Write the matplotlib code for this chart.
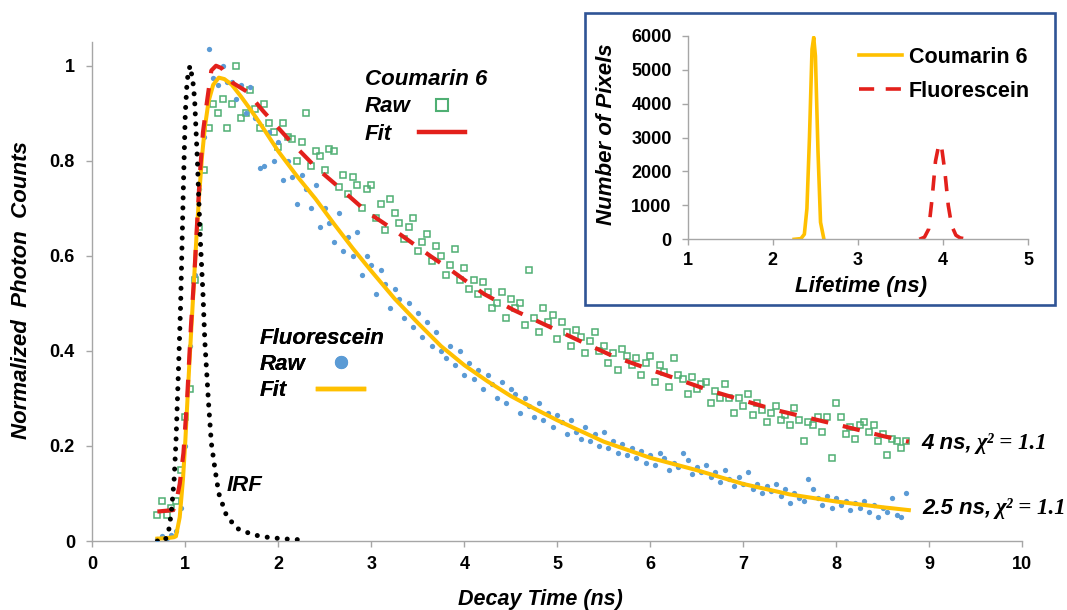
import numpy as np
import matplotlib
matplotlib.use("Agg")
import matplotlib.pyplot as plt
from matplotlib.patches import Rectangle
from matplotlib.lines import Line2D
from matplotlib.font_manager import FontProperties
from matplotlib.ticker import FuncFormatter

plt.rcParams['font.family'] = ['Liberation Sans', 'DejaVu Sans']
plt.rcParams['font.weight'] = 'bold'

# ---------------- data ----------------
# raw decay data: time bins (ns)
t_raw = np.round(0.70 + 0.05 * np.arange(162), 2)

fluo_raw = [
    0.005, 0.010, 0.006, 0.012, 0.022, 0.07, 0.20, 0.41, 0.56, 0.74,
    0.85, 1.035, 0.975, 0.96, 1.0, 0.965, 0.965, 0.93, 0.96, 0.90,
    0.955, 0.89, 0.785, 0.79, 0.86, 0.80, 0.84, 0.76, 0.80, 0.765,
    0.71, 0.77, 0.74, 0.70, 0.75, 0.66, 0.70, 0.67, 0.63, 0.69,
    0.61, 0.64, 0.60, 0.65, 0.56, 0.60, 0.58, 0.52, 0.57, 0.54,
    0.49, 0.53, 0.51, 0.47, 0.50, 0.45, 0.48, 0.43, 0.46, 0.41,
    0.44, 0.40, 0.385, 0.41, 0.37, 0.40, 0.35, 0.375, 0.34, 0.36,
    0.32, 0.35, 0.33, 0.30, 0.335, 0.29, 0.32, 0.31, 0.27, 0.30,
    0.285, 0.26, 0.29, 0.255, 0.27, 0.24, 0.265, 0.25, 0.225, 0.255,
    0.23, 0.215, 0.24, 0.21, 0.225, 0.20, 0.23, 0.195, 0.21, 0.185,
    0.205, 0.18, 0.195, 0.175, 0.19, 0.165, 0.18, 0.16, 0.185, 0.175,
    0.15, 0.165, 0.155, 0.185, 0.17, 0.14, 0.155, 0.145, 0.16, 0.135,
    0.145, 0.125, 0.15, 0.13, 0.115, 0.135, 0.12, 0.145, 0.11, 0.12,
    0.10, 0.115, 0.105, 0.12, 0.095, 0.11, 0.08, 0.10, 0.09, 0.085,
    0.13, 0.11, 0.09, 0.075, 0.095, 0.07, 0.09, 0.075, 0.085, 0.065,
    0.08, 0.07, 0.085, 0.06, 0.075, 0.05, 0.07, 0.06, 0.09, 0.055,
    0.05, 0.10,
]

coum_raw = [
    0.055, 0.085, 0.055, 0.07, 0.085, 0.15, 0.26, 0.32, 0.55, 0.66,
    0.78, 0.87, 0.92, 0.90, 0.93, 0.87, 0.92, 1.0, 0.89, 0.90,
    0.95, 0.91, 0.87, 0.92, 0.88, 0.86, 0.83, 0.88, 0.85, 0.845,
    0.80, 0.84, 0.90, 0.79, 0.82, 0.81, 0.78, 0.825, 0.82, 0.745,
    0.77, 0.73, 0.765, 0.75, 0.70, 0.74, 0.75, 0.68, 0.71, 0.655,
    0.72, 0.69, 0.67, 0.635, 0.66, 0.68, 0.61, 0.63, 0.645, 0.59,
    0.62, 0.60, 0.56, 0.58, 0.615, 0.55, 0.575, 0.53, 0.55, 0.52,
    0.545, 0.525, 0.49, 0.50, 0.525, 0.47, 0.51, 0.49, 0.50, 0.455,
    0.57, 0.47, 0.44, 0.49, 0.46, 0.475, 0.425, 0.46, 0.44, 0.41,
    0.445, 0.43, 0.395, 0.42, 0.44, 0.40, 0.41, 0.375, 0.395, 0.36,
    0.405, 0.39, 0.37, 0.385, 0.35, 0.375, 0.39, 0.335, 0.37, 0.355,
    0.325, 0.385, 0.35, 0.34, 0.31, 0.345, 0.32, 0.33, 0.335, 0.29,
    0.315, 0.30, 0.33, 0.30, 0.27, 0.30, 0.285, 0.31, 0.265, 0.29,
    0.275, 0.25, 0.27, 0.285, 0.255, 0.265, 0.245, 0.28, 0.255, 0.21,
    0.25, 0.245, 0.26, 0.23, 0.26, 0.175, 0.29, 0.26, 0.225, 0.24,
    0.215, 0.245, 0.25, 0.23, 0.245, 0.21, 0.225, 0.18, 0.215, 0.21,
    0.195, 0.21,
]

# fitted curves
fit_fl_t = [0.70, 0.80, 0.88, 0.90, 0.94, 0.975, 1.00, 1.04, 1.08, 1.12, 1.15,
            1.18, 1.21, 1.25, 1.30, 1.36, 1.42, 1.50, 1.60, 1.70, 1.80, 2.00,
            2.20, 2.40, 2.60, 2.80, 3.00, 3.25, 3.50, 3.75, 4.00, 4.25, 4.50,
            4.75, 5.00, 5.50, 6.00, 6.50, 7.00, 7.50, 8.00, 8.50, 8.78]
fit_fl_v = [0.005, 0.006, 0.008, 0.01, 0.05, 0.13, 0.21, 0.36, 0.50, 0.64, 0.73,
            0.81, 0.87, 0.925, 0.96, 0.975, 0.972, 0.96, 0.935, 0.908, 0.88, 0.82,
            0.768, 0.72, 0.667, 0.616, 0.568, 0.51, 0.459, 0.41, 0.37, 0.336, 0.305,
            0.279, 0.254, 0.209, 0.175, 0.149, 0.12, 0.098, 0.083, 0.071, 0.065]

fit_c6_t = [0.70, 0.87, 0.90, 0.94, 0.98, 1.02, 1.06, 1.10, 1.13, 1.16, 1.19,
            1.23, 1.28, 1.33, 1.39, 1.51, 1.66, 1.84, 2.13, 2.41, 2.66, 2.95,
            3.24, 3.64, 3.82, 4.21, 4.53, 5.22, 5.61, 6.01, 6.62, 7.34, 8.09,
            8.52, 8.78]
fit_c6_v = [0.062, 0.065, 0.08, 0.12, 0.185, 0.30, 0.45, 0.57, 0.68, 0.78, 0.86,
            0.92, 0.99, 1.0, 0.995, 0.964, 0.946, 0.904, 0.841, 0.785, 0.743, 0.693,
            0.655, 0.599, 0.575, 0.52, 0.486, 0.423, 0.388, 0.36, 0.318, 0.276, 0.241,
            0.22, 0.209]

# instrument response function
irf_t = [0.70, 0.78, 0.82, 0.85, 0.88, 0.90, 0.93, 0.95, 0.98, 1.00, 1.02, 1.05,
         1.08, 1.10, 1.13, 1.16, 1.19, 1.21, 1.25, 1.28, 1.32, 1.36, 1.44, 1.55,
         1.73, 1.91, 2.10, 2.30]
irf_v = [0.0, 0.0, 0.02, 0.06, 0.13, 0.21, 0.38, 0.50, 0.75, 0.90, 0.97, 1.0,
         0.97, 0.93, 0.80, 0.64, 0.52, 0.42, 0.29, 0.206, 0.15, 0.10, 0.055, 0.027,
         0.013, 0.007, 0.004, 0.002]

# inset: lifetime histograms
hist_c6_x = [2.25, 2.33, 2.37, 2.40, 2.43, 2.46, 2.48, 2.50, 2.53, 2.56, 2.60]
hist_c6_y = [0, 20, 150, 900, 3000, 5600, 5950, 5400, 2600, 500, 0]
hist_fl_x = [3.72, 3.78, 3.83, 3.87, 3.91, 3.95, 3.98, 4.02, 4.06, 4.10, 4.15,
             4.20, 4.27, 4.33]
hist_fl_y = [0, 60, 300, 1200, 2300, 2800, 2750, 2000, 1000, 400, 120, 40, 10, 0]

x_ticks = list(range(0, 11))
y_ticks = [0, 0.2, 0.4, 0.6, 0.8, 1.0]
inset_x_ticks = [1, 2, 3, 4, 5]
inset_y_ticks = [0, 1000, 2000, 3000, 4000, 5000, 6000]

# ---------------- styles ----------------
YELLOW = '#FFC000'
RED = '#E3201B'
BLUE = '#5B9BD5'
GREEN = '#4FAF73'
SPINE = '#A6A6A6'
BOX = '#2F5496'

W, H = 1067, 610
fig = plt.figure(figsize=(W / 100, H / 100), dpi=100)

# ---------------- main axes ----------------
ax = fig.add_axes([92.3 / W, 69 / H, 930 / W, 499 / H])
ax.set_xlim(0, 10)
ax.set_ylim(0, 1.05)

ax.plot(t_raw, coum_raw, ls='none', marker='s', ms=4.8, mfc='none',
        mec=GREEN, mew=1.1, zorder=2)
ax.plot(t_raw, fluo_raw, ls='none', marker='o', ms=3.8, mfc=BLUE,
        mec='none', zorder=3)
ax.plot(fit_fl_t, fit_fl_v, color=YELLOW, lw=2.9, zorder=4,
        solid_joinstyle='round')
ax.plot(fit_c6_t, fit_c6_v, color=RED, lw=3.0, dashes=(4.2, 3.6), zorder=5)
ax.plot(irf_t, irf_v, color='black', lw=3.6, ls=(0, (0.01, 2.0)),
        dash_capstyle='round', zorder=6)

for s in ['top', 'right']:
    ax.spines[s].set_visible(False)
for s in ['left', 'bottom']:
    ax.spines[s].set_color(SPINE)
    ax.spines[s].set_linewidth(1.0)
ax.set_xticks(x_ticks)
ax.set_yticks(y_ticks)
ax.yaxis.set_major_formatter(FuncFormatter(lambda v, p: f'{v:g}'))
ax.tick_params(direction='out', length=4.5, width=1, color=SPINE,
               labelsize=13, pad=6)
ax.tick_params(axis='y', pad=8)

lab_fp = dict(fontsize=16, fontweight='bold', fontstyle='italic')
ax.set_ylabel('Normalized  Photon  Counts', **lab_fp)
ax.yaxis.set_label_coords(-0.065, 0.503)
ax.set_xlabel('Decay Time (ns)', fontsize=15.5, fontweight='bold', fontstyle='italic')
ax.xaxis.set_label_coords(0.4814, -0.096)

ax.text(1.642, 0.116, 'IRF', ha='center', va='center', **lab_fp)

# lifetime annotations
chi_kw = dict(textcoords='offset points', va='center', ha='left',
              family=['Liberation Serif', 'DejaVu Serif'], fontsize=16.5,
              fontweight='bold', fontstyle='italic', annotation_clip=False)
t1 = ax.text(8.92, 0.206, '4 ns,', ha='left', va='center', **lab_fp)
ax.annotate('\u03c7\u00b2 = 1.1', xy=(1, 0.5), xycoords=t1, xytext=(3, 0), **chi_kw)
t2 = ax.text(8.92, 0.069, '2.5 ns,', ha='left', va='center', **lab_fp)
ax.annotate('\u03c7\u00b2 = 1.1', xy=(1, 0.5), xycoords=t2, xytext=(3, 0), **chi_kw)

# legends (label first, key after)
leg_fp = FontProperties(family='Liberation Sans', weight='bold',
                        style='italic', size=16)
h_c6_raw = Line2D([], [], ls='none', marker='s', ms=9, mfc='none', mec=GREEN, mew=1.5)
h_c6_fit = Line2D([], [], color=RED, lw=3.2)
leg1 = ax.legend([h_c6_raw, h_c6_fit], ['Raw', 'Fit'], title='Coumarin 6',
                 markerfirst=False, loc='upper left', bbox_to_anchor=(2.93, 0.994),
                 bbox_transform=ax.transData, frameon=False, borderpad=0,
                 borderaxespad=0, handlelength=2.05, handletextpad=0.4,
                 labelspacing=0.3, alignment='left', prop=leg_fp,
                 title_fontproperties=leg_fp)
ax.add_artist(leg1)

h_fl_raw = Line2D([], [], ls='none', marker='o', ms=9.5, mfc=BLUE, mec='none')
h_fl_fit = Line2D([], [], color=YELLOW, lw=3.2)
leg2 = ax.legend([h_fl_raw, h_fl_fit], ['Raw', 'Fit'], title='Fluorescein',
                 markerfirst=False, loc='upper left', bbox_to_anchor=(1.80, 0.449),
                 bbox_transform=ax.transData, frameon=False, borderpad=0,
                 borderaxespad=0, handlelength=2.1, handletextpad=0.55,
                 labelspacing=0.24, alignment='left', prop=leg_fp,
                 title_fontproperties=leg_fp)
ax.add_artist(leg2)

# ---------------- inset ----------------
box = Rectangle((585 / W, (H - 305) / H), (1055 - 585) / W, (305 - 13) / H,
                transform=fig.transFigure, facecolor='white', edgecolor=BOX,
                linewidth=1.9, zorder=2)
fig.add_artist(box)

axi = fig.add_axes([687.7 / W, (H - 239.3) / H, 340.6 / W, 203.6 / H])
axi.set_zorder(3)
axi.patch.set_alpha(0)
axi.set_xlim(1, 5)
axi.set_ylim(0, 6000)
axi.plot(hist_c6_x, hist_c6_y, color=YELLOW, lw=2.6, label='Coumarin 6')
axi.plot(hist_fl_x, hist_fl_y, color=RED, lw=2.6, dashes=(4.2, 3.2), label='Fluorescein')
for s in ['top', 'right']:
    axi.spines[s].set_visible(False)
for s in ['left', 'bottom']:
    axi.spines[s].set_color(SPINE)
    axi.spines[s].set_linewidth(1.0)
axi.set_xticks(inset_x_ticks)
axi.set_yticks(inset_y_ticks)
axi.tick_params(direction='out', length=4.5, width=1, color=SPINE,
                labelsize=13, pad=5)
axi.tick_params(axis='y', pad=7)
axi.set_ylabel('Number of Pixels', **lab_fp)
axi.yaxis.set_label_coords(-0.2076, 0.517)
axi.set_xlabel('Lifetime (ns)', **lab_fp)
axi.xaxis.set_label_coords(0.509, -0.18)
axi.legend(loc='upper right', bbox_to_anchor=(1030 / W, (H - 47) / H),
           bbox_transform=fig.transFigure, frameon=False, borderpad=0,
           borderaxespad=0, handlelength=2.0, handletextpad=0.3,
           labelspacing=0.6,
           prop=FontProperties(family='Liberation Sans', weight='bold', size=15.5))

# left-align the labels of the key-after legends: widen the gap of the shorter row
fig.canvas.draw()
renderer = fig.canvas.get_renderer()
for leg in (leg1, leg2):
    texts = leg.get_texts()
    widths = [t.get_window_extent(renderer).width for t in texts]
    column = leg._legend_handle_box.get_children()[0]
    rows = column.get_children()
    wmax = max(widths)
    for row, w in zip(rows, widths):
        row.sep = row.sep + (wmax - w) * 72.0 / fig.dpi

fig.savefig('out.png', dpi=100)
